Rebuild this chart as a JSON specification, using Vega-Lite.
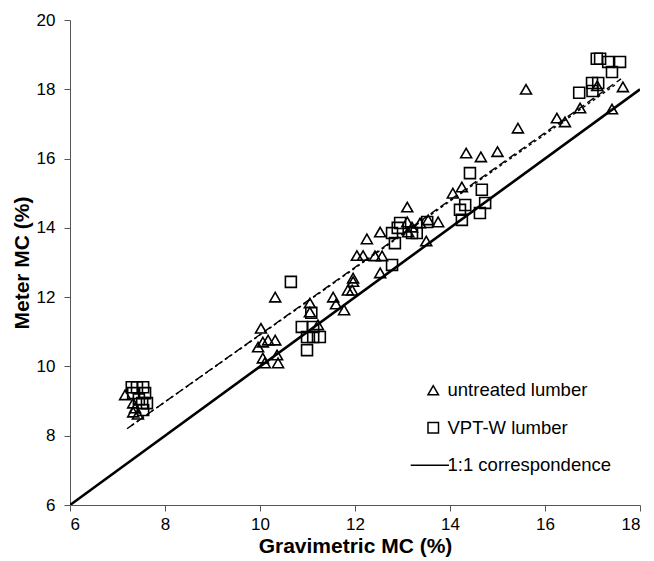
{
  "$schema": "https://vega.github.io/schema/vega-lite/v6.json",
  "width": 570,
  "height": 485,
  "autosize": "none",
  "padding": {"left": 70, "top": 20, "right": 14, "bottom": 56},
  "background": "white",
  "config": {
    "view": {"stroke": null},
    "axis": {
      "grid": false,
      "domainColor": "#555",
      "tickColor": "#555",
      "tickSize": 6,
      "labelFont": "Liberation Sans",
      "labelFontSize": 17,
      "labelColor": "black",
      "titleFont": "Liberation Sans",
      "titleFontSize": 21,
      "titleFontWeight": "bold",
      "titleColor": "black"
    }
  },
  "datasets": {
    "pts": [
      {"g": 7.16, "m": 9.18, "series": "untreated lumber"},
      {"g": 7.33, "m": 8.94, "series": "untreated lumber"},
      {"g": 7.37, "m": 8.8, "series": "untreated lumber"},
      {"g": 7.33, "m": 8.68, "series": "untreated lumber"},
      {"g": 7.43, "m": 8.62, "series": "untreated lumber"},
      {"g": 9.96, "m": 10.56, "series": "untreated lumber"},
      {"g": 10.02, "m": 11.1, "series": "untreated lumber"},
      {"g": 10.06, "m": 10.7, "series": "untreated lumber"},
      {"g": 10.17, "m": 10.76, "series": "untreated lumber"},
      {"g": 10.32, "m": 10.76, "series": "untreated lumber"},
      {"g": 10.06, "m": 10.24, "series": "untreated lumber"},
      {"g": 10.36, "m": 10.33, "series": "untreated lumber"},
      {"g": 10.38, "m": 10.1, "series": "untreated lumber"},
      {"g": 10.1, "m": 10.1, "series": "untreated lumber"},
      {"g": 10.32, "m": 12.0, "series": "untreated lumber"},
      {"g": 11.05, "m": 11.83, "series": "untreated lumber"},
      {"g": 11.05, "m": 11.57, "series": "untreated lumber"},
      {"g": 11.22, "m": 11.2, "series": "untreated lumber"},
      {"g": 11.54, "m": 12.0, "series": "untreated lumber"},
      {"g": 11.6, "m": 11.8, "series": "untreated lumber"},
      {"g": 11.77, "m": 11.63, "series": "untreated lumber"},
      {"g": 11.85, "m": 12.2, "series": "untreated lumber"},
      {"g": 11.94, "m": 12.2, "series": "untreated lumber"},
      {"g": 11.96, "m": 12.55, "series": "untreated lumber"},
      {"g": 11.96, "m": 12.45, "series": "untreated lumber"},
      {"g": 12.04, "m": 13.2, "series": "untreated lumber"},
      {"g": 12.17, "m": 13.2, "series": "untreated lumber"},
      {"g": 12.25, "m": 13.68, "series": "untreated lumber"},
      {"g": 12.42, "m": 13.19, "series": "untreated lumber"},
      {"g": 12.57, "m": 13.19, "series": "untreated lumber"},
      {"g": 12.53, "m": 13.88, "series": "untreated lumber"},
      {"g": 12.53, "m": 12.7, "series": "untreated lumber"},
      {"g": 13.1, "m": 14.6, "series": "untreated lumber"},
      {"g": 13.1, "m": 14.17, "series": "untreated lumber"},
      {"g": 13.2, "m": 14.02, "series": "untreated lumber"},
      {"g": 13.12, "m": 13.88, "series": "untreated lumber"},
      {"g": 13.37, "m": 14.14, "series": "untreated lumber"},
      {"g": 13.54, "m": 14.23, "series": "untreated lumber"},
      {"g": 13.75, "m": 14.17, "series": "untreated lumber"},
      {"g": 13.5, "m": 13.62, "series": "untreated lumber"},
      {"g": 14.06, "m": 15.0, "series": "untreated lumber"},
      {"g": 14.25, "m": 15.18, "series": "untreated lumber"},
      {"g": 14.34, "m": 16.16, "series": "untreated lumber"},
      {"g": 14.65, "m": 16.05, "series": "untreated lumber"},
      {"g": 15.0, "m": 16.2, "series": "untreated lumber"},
      {"g": 15.43, "m": 16.88, "series": "untreated lumber"},
      {"g": 15.6, "m": 18.0, "series": "untreated lumber"},
      {"g": 16.25, "m": 17.17, "series": "untreated lumber"},
      {"g": 16.42, "m": 17.06, "series": "untreated lumber"},
      {"g": 16.74, "m": 17.46, "series": "untreated lumber"},
      {"g": 17.1, "m": 18.1, "series": "untreated lumber"},
      {"g": 17.64, "m": 18.07, "series": "untreated lumber"},
      {"g": 17.41, "m": 17.43, "series": "untreated lumber"},
      {"g": 7.3, "m": 9.4, "series": "VPT-W lumber"},
      {"g": 7.41, "m": 9.4, "series": "VPT-W lumber"},
      {"g": 7.54, "m": 9.4, "series": "VPT-W lumber"},
      {"g": 7.33, "m": 9.23, "series": "VPT-W lumber"},
      {"g": 7.58, "m": 9.23, "series": "VPT-W lumber"},
      {"g": 7.52, "m": 8.94, "series": "VPT-W lumber"},
      {"g": 7.62, "m": 8.94, "series": "VPT-W lumber"},
      {"g": 7.54, "m": 8.74, "series": "VPT-W lumber"},
      {"g": 7.45, "m": 9.05, "series": "VPT-W lumber"},
      {"g": 10.65, "m": 12.44, "series": "VPT-W lumber"},
      {"g": 10.88, "m": 11.14, "series": "VPT-W lumber"},
      {"g": 11.12, "m": 11.14, "series": "VPT-W lumber"},
      {"g": 10.99, "m": 10.85, "series": "VPT-W lumber"},
      {"g": 11.12, "m": 10.85, "series": "VPT-W lumber"},
      {"g": 11.26, "m": 10.85, "series": "VPT-W lumber"},
      {"g": 10.99, "m": 10.47, "series": "VPT-W lumber"},
      {"g": 11.08, "m": 11.55, "series": "VPT-W lumber"},
      {"g": 12.78, "m": 12.93, "series": "VPT-W lumber"},
      {"g": 12.78, "m": 13.85, "series": "VPT-W lumber"},
      {"g": 12.9, "m": 14.0, "series": "VPT-W lumber"},
      {"g": 12.95, "m": 14.14, "series": "VPT-W lumber"},
      {"g": 12.84, "m": 13.56, "series": "VPT-W lumber"},
      {"g": 13.3, "m": 13.85, "series": "VPT-W lumber"},
      {"g": 13.2, "m": 13.85, "series": "VPT-W lumber"},
      {"g": 13.52, "m": 14.17, "series": "VPT-W lumber"},
      {"g": 14.21, "m": 14.52, "series": "VPT-W lumber"},
      {"g": 14.32, "m": 14.66, "series": "VPT-W lumber"},
      {"g": 14.25, "m": 14.23, "series": "VPT-W lumber"},
      {"g": 14.63, "m": 14.43, "series": "VPT-W lumber"},
      {"g": 14.74, "m": 14.72, "series": "VPT-W lumber"},
      {"g": 14.67, "m": 15.1, "series": "VPT-W lumber"},
      {"g": 14.42, "m": 15.58, "series": "VPT-W lumber"},
      {"g": 16.72, "m": 17.9, "series": "VPT-W lumber"},
      {"g": 16.99, "m": 18.18, "series": "VPT-W lumber"},
      {"g": 17.12, "m": 18.18, "series": "VPT-W lumber"},
      {"g": 17.0, "m": 17.95, "series": "VPT-W lumber"},
      {"g": 17.09, "m": 18.88, "series": "VPT-W lumber"},
      {"g": 17.16, "m": 18.88, "series": "VPT-W lumber"},
      {"g": 17.33, "m": 18.79, "series": "VPT-W lumber"},
      {"g": 17.58, "m": 18.79, "series": "VPT-W lumber"},
      {"g": 17.41, "m": 18.5, "series": "VPT-W lumber"}
    ],
    "lines": [
      {"g": 6, "m": 6, "line": "1:1"},
      {"g": 18, "m": 18, "line": "1:1"},
      {"g": 7.2, "m": 8.2, "line": "untreated fit"},
      {"g": 17.6, "m": 18.3, "line": "untreated fit"},
      {"g": 7.3, "m": 8.3, "line": "VPT-W fit"},
      {"g": 17.5, "m": 18.15, "line": "VPT-W fit"}
    ]
  },
  "encoding": {
    "x": {
      "field": "g", "type": "quantitative",
      "scale": {"domain": [6, 18], "nice": false, "zero": false},
      "axis": {"values": [6, 8, 10, 12, 14, 16, 18], "title": "Gravimetric MC (%)", "labelPadding": 5, "titlePadding": 3}
    },
    "y": {
      "field": "m", "type": "quantitative",
      "scale": {"domain": [6, 20], "nice": false, "zero": false},
      "axis": {"values": [6, 8, 10, 12, 14, 16, 18, 20], "title": "Meter MC (%)", "labelPadding": 9, "titlePadding": 4}
    }
  },
  "layer": [
    {
      "data": {"name": "lines"},
      "transform": [{"filter": "datum.line === '1:1'"}],
      "mark": {"type": "line", "color": "black", "strokeWidth": 2.6, "clip": true},
      "encoding": {}
    },
    {
      "data": {"name": "lines"},
      "transform": [{"filter": "datum.line === 'untreated fit'"}],
      "mark": {"type": "line", "color": "black", "strokeWidth": 1.4, "strokeDash": [8, 4]},
      "encoding": {}
    },
    {
      "data": {"name": "lines"},
      "transform": [{"filter": "datum.line === 'VPT-W fit'"}],
      "mark": {"type": "line", "color": "black", "strokeWidth": 1.4, "strokeDash": [3, 3]},
      "encoding": {}
    },
    {
      "data": {"name": "pts"},
      "mark": {"type": "point", "filled": false, "color": "black", "strokeWidth": 1.6, "size": 120, "opacity": 1},
      "encoding": {
        "shape": {
          "field": "series", "type": "nominal",
          "scale": {
            "domain": ["untreated lumber", "VPT-W lumber", "1:1 correspondence"],
            "range": ["triangle-up", "square", "M-4.3,0H3.0"]
          },
          "legend": {
            "title": null,
            "orient": "none",
            "legendX": 354,
            "legendY": 361,
            "labelFont": "Liberation Sans",
            "labelFontSize": 18.5,
            "labelColor": "black",
            "labelLimit": 400,
            "symbolSize": 110,
            "symbolStrokeColor": "black",
            "symbolStrokeWidth": 1.5,
            "rowPadding": 18.5,
            "labelOffset": 5,
            "encode": {
              "symbols": {
                "update": {
                  "strokeWidth": {"signal": "datum.label === '1:1 correspondence' ? 3 : 1.5"}
                }
              }
            }
          }
        }
      }
    }
  ]
}
